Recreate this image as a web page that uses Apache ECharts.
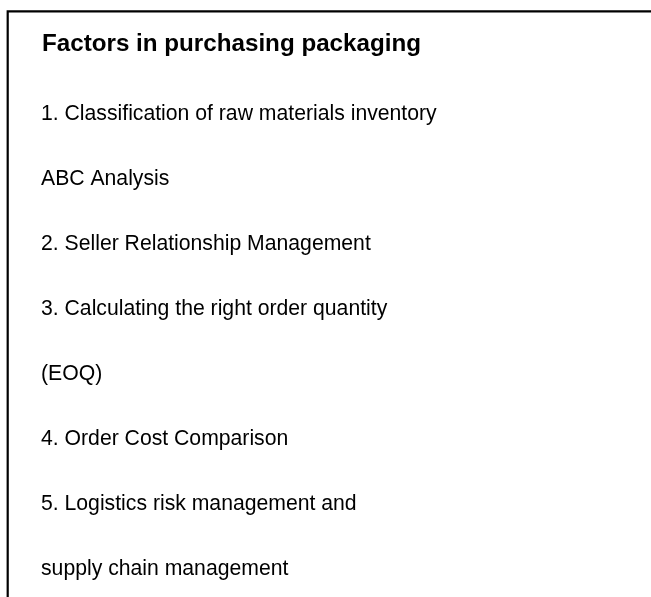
<!DOCTYPE html>
<html>
<head>
<meta charset="UTF-8">
<title>Factors in purchasing packaging</title>
<style>
  html, body { margin: 0; padding: 0; background: #fff; }
  #chart { width: 651px; height: 597px; }
</style>
</head>
<body>
  <div id="chart"></div>
  <script src="https://cdn.jsdelivr.net/npm/echarts@6/dist/echarts.min.js"></script>
  <script>
    // text content of the box
    const titleText = 'Factors in purchasing packaging';
    const lines = [
      '1. Classification of raw materials inventory',
      'ABC Analysis',
      '2. Seller Relationship Management',
      '3. Calculating the right order quantity',
      '(EOQ)',
      '4. Order Cost Comparison',
      '5. Logistics risk management and',
      'supply chain management'
    ];
    const xPos = lines.map(() => 0);

    const chart = echarts.init(document.getElementById('chart'));
    const option = {
      backgroundColor: '#fff',
      title: {
        text: titleText,
        left: 42,
        top: 32,
        padding: 0,
        textStyle: {
          fontFamily: 'Liberation Sans, Arial, sans-serif',
          fontSize: 24.2,
          fontWeight: 'bold',
          lineHeight: 24,
          color: '#000'
        }
      },
      grid: { left: 41, right: 20, top: 114.5, bottom: 28 },
      xAxis: { type: 'value', min: 0, max: 1, show: false },
      yAxis: {
        type: 'category',
        data: lines,
        inverse: true,
        boundaryGap: false,
        show: false
      },
      graphic: [{
        type: 'polyline',
        shape: { points: [[7.7, 597], [7.7, 11.3], [651, 11.3]] },
        style: { stroke: '#000', lineWidth: 2.2, fill: null },
        silent: true
      }],
      series: [{
        type: 'scatter',
        data: xPos.map((x, i) => [x, lines[i]]),
        symbolSize: 0,
        silent: true,
        itemStyle: { opacity: 1 },
        label: {
          show: true,
          position: 'right',
          distance: 0,
          formatter: p => p.value[1],
          fontFamily: 'Liberation Sans, Arial, sans-serif',
          fontSize: 21.2,
          color: '#000'
        }
      }]
    };
    chart.setOption(option);
  </script>
</body>
</html>
